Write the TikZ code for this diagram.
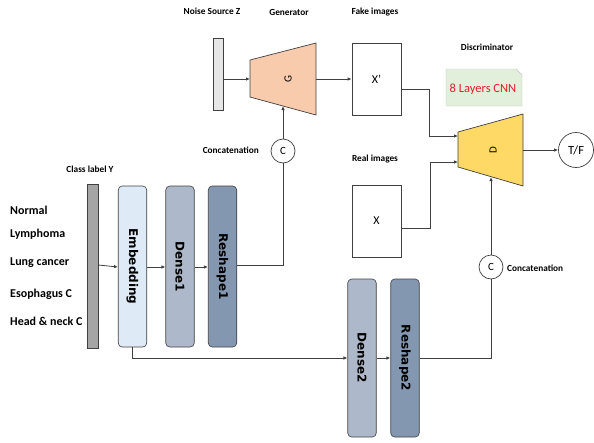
\documentclass[tikz,border=0pt]{standalone}
\usepackage{fontspec}
\setmainfont{Carlito}
\newfontfamily\blk{DejaVu Sans}
\usetikzlibrary{arrows.meta}
\definecolor{edge}{HTML}{404040}
\definecolor{peach}{HTML}{F8CBAD}
\definecolor{gold}{HTML}{FFD966}
\definecolor{cnngreen}{HTML}{E2EFDA}
\definecolor{cnnred}{HTML}{E0202A}
\definecolor{embc}{HTML}{DEEBF7}
\definecolor{densec}{HTML}{ADB9CA}
\definecolor{reshc}{HTML}{8497B0}
\definecolor{barc}{HTML}{A5A5A5}
\definecolor{noisec}{HTML}{E7E6E6}
\tikzset{
  conn/.style={draw=edge, line width=0.8pt},
  arr/.style={conn, -{Latex[length=4pt,width=3.5pt]}},
  lbl/.style={font=\bfseries\fontsize{9.3}{10}\selectfont, inner sep=0pt},
  cls/.style={font=\bfseries\fontsize{12}{13}\selectfont, inner sep=0pt, anchor=west},
  layer/.style={draw=edge, line width=0.6pt, rounded corners=4pt, minimum width=28.5pt, inner sep=0pt,
     font=\blk\bfseries\fontsize{12}{13}\selectfont},
  imgbox/.style={draw=edge, line width=0.7pt, fill=white, minimum width=49pt, minimum height=72pt, inner sep=0pt,
     font=\fontsize{12}{13}\selectfont},
  circ/.style={draw=edge, line width=0.7pt, circle, fill=white, inner sep=0pt}
}
\begin{document}
\begin{tikzpicture}[x=1pt,y=-1pt]
\useasboundingbox (0,0) rectangle (594,442);
% top labels
\node[lbl] (lnoise) at (212,11) {Noise Source Z};
\node[lbl] (lgen) at (289,12) {Generator};
\node[lbl] (lfake) at (375,12) {Fake images};
\node[lbl] (ldisc) at (487,47) {Discriminator};
\node[lbl] (lreal) at (375,159) {Real images};
\node[lbl, anchor=east] (lcat1) at (259,150) {Concatenation};
\node[lbl, anchor=west] (lcat2) at (507,268) {Concatenation};
\node[lbl] (lcls) at (90,169) {Class label Y};
% noise bar
\node[draw=edge, line width=0.6pt, fill=noisec, minimum width=10pt, minimum height=72pt, inner sep=0pt] (noise) at (218,74) {};
% generator trapezoid
\draw[draw=edge, line width=0.7pt, fill=peach] (250,60) -- (316,43) -- (316,115) -- (250,97) -- cycle;
\node[rotate=90, font=\fontsize{11}{12}\selectfont, inner sep=0pt] (G) at (288,79) {G};
\coordinate (Gin) at (250,79);
\coordinate (Gout) at (316,79);
\coordinate (Gbot) at (283,106);
% images
\node[imgbox] (Xf) at (376.5,79) {X'};
\node[imgbox] (Xr) at (376.5,221) {X};
% CNN box
\draw[draw=gray!45, line width=0.4pt, fill=cnngreen] (446,69) -- (516,69) -- (522,75) -- (522,106) -- (446,106) -- cycle;
\node[font=\fontsize{12.5}{13}\selectfont, text=cnnred, inner sep=0pt] (cnn) at (483,89) {8 Layers CNN};
% discriminator trapezoid
\draw[draw=edge, line width=0.7pt, fill=gold] (458,132) -- (523,114) -- (523,186) -- (458,167) -- cycle;
\node[rotate=90, font=\fontsize{11}{12}\selectfont, inner sep=0pt] (D) at (493,150) {D};
\coordinate (Din1) at (458,136);
\coordinate (Din2) at (458,162);
\coordinate (Dout) at (523,150);
\coordinate (Dbot) at (491,177);
% T/F
\node[circ, minimum size=35pt, font=\fontsize{12.5}{13}\selectfont] (tf) at (576,150) {T/F};
% concatenation circles
\node[circ, minimum size=24pt, font=\fontsize{11}{12}\selectfont] (c1) at (283,151) {C};
\node[circ, minimum size=24pt, font=\fontsize{11}{12}\selectfont] (c2) at (491,267) {C};
% class names
\node[cls] (n1) at (10,210) {Normal};
\node[cls] (n2) at (10,234) {Lymphoma};
\node[cls] (n3) at (10,263) {Lung cancer};
\node[cls] (n4) at (10,294) {Esophagus C};
\node[cls] (n5) at (10,321) {Head \& neck C};
% class bar
\node[draw=edge, line width=0.6pt, fill=barc, minimum width=11pt, minimum height=164pt, inner sep=0pt] (bar) at (92.5,266) {};
% layers
\node[layer, fill=embc, minimum height=161pt] (emb) at (132.5,266.5) {\rotatebox{-90}{Embedding}};
\node[layer, fill=densec, minimum height=161pt] (d1) at (180,266.5) {\rotatebox{-90}{Dense1}};
\node[layer, fill=reshc, minimum height=161pt] (r1) at (222.5,266.5) {\rotatebox{-90}{Reshape1}};
\node[layer, fill=densec, minimum height=158pt] (d2) at (362,358) {\rotatebox{-90}{Dense2}};
\node[layer, fill=reshc, minimum height=158pt] (r2) at (405,358) {\rotatebox{-90}{Reshape2}};
% connectors
\draw[arr] (noise.east |- Gin) -- (Gin);
\draw[arr] (Gout) -- (Xf.west |- Gout);
\draw[arr] ([yshift=-10pt]Xf.east) -- ++(28,0) |- (Din1);
\draw[arr] ([yshift=-7pt]Xr.east) -- ++(29,0) |- (Din2);
\draw[arr] (Dout) -- (tf.west);
\draw[arr] (c1.north) -- (Gbot);
\draw[conn] (r1.east |- 0,265) -| (c1.south);
\draw[arr] (bar.east |- 0,265) -- (emb.west |- 0,267);
\draw[arr] (emb.east |- 0,267) -- (d1.west |- 0,267);
\draw[arr] (d1.east |- 0,267) -- (r1.west |- 0,267);
\draw[arr] (emb.south) |- (d2.west);
\draw[arr] (d2.east) -- (r2.west);
\draw[conn] (r2.east) -| (c2.south);
\draw[arr] (c2.north) -- (Dbot);
\end{tikzpicture}
\end{document}
